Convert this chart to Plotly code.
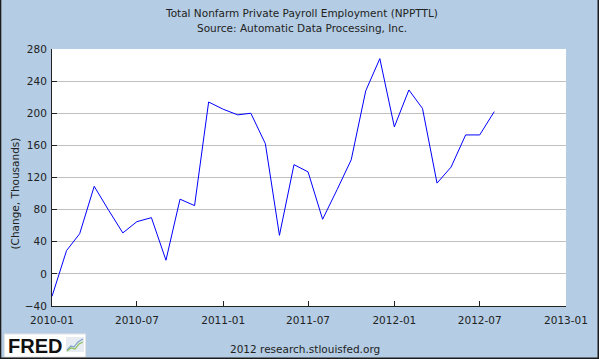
import plotly.graph_objects as go

# ---- data ----
months = [
    "2010-01-01", "2010-02-01", "2010-03-01", "2010-04-01", "2010-05-01", "2010-06-01",
    "2010-07-01", "2010-08-01", "2010-09-01", "2010-10-01", "2010-11-01", "2010-12-01",
    "2011-01-01", "2011-02-01", "2011-03-01", "2011-04-01", "2011-05-01", "2011-06-01",
    "2011-07-01", "2011-08-01", "2011-09-01", "2011-10-01", "2011-11-01", "2011-12-01",
    "2012-01-01", "2012-02-01", "2012-03-01", "2012-04-01", "2012-05-01", "2012-06-01",
    "2012-07-01", "2012-08-01",
]
npputtl_change = [
    -28, 29, 50, 109, 80, 51,
    65, 70, 17, 93, 85, 214,
    205, 198, 200, 162, 48, 136,
    127, 68, 105, 142, 228, 268,
    183, 229, 206, 113, 133, 173,
    173, 202,
]
y_tick_values = [-40, 0, 40, 80, 120, 160, 200, 240, 280]
x_tick_values = ["2010-01-01", "2010-07-01", "2011-01-01", "2011-07-01",
                 "2012-01-01", "2012-07-01", "2013-01-01"]
x_tick_labels = ["2010-01", "2010-07", "2011-01", "2011-07",
                 "2012-01", "2012-07", "2013-01"]

title_line1 = "Total Nonfarm Private Payroll Employment (NPPTTL)"
title_line2 = "Source: Automatic Data Processing, Inc."
y_label = "(Change, Thousands)"
footer = "2012 research.stlouisfed.org"

# ---- layout geometry (pixels) ----
W, H = 599, 359
L, R, T, B = 52, 566, 49, 306
pw, ph = R - L, B - T


def px(x):
    return (x - L) / pw


def py(y):
    return (B - y) / ph


FONT = "DejaVu Sans"
TXT = "#222222"
BG = "#B4CDE4"

fig = go.Figure()
fig.add_trace(go.Scatter(
    x=months, y=npputtl_change, mode="lines",
    line=dict(color="#0000FF", width=1),
    hoverinfo="x+y", showlegend=False,
))

fig.update_layout(
    width=W, height=H,
    margin=dict(l=L, r=W - R, t=T, b=H - B, pad=0),
    paper_bgcolor=BG, plot_bgcolor="white",
    font=dict(family=FONT, size=10.5, color=TXT),
    showlegend=False,
)

fig.update_xaxes(
    type="date", range=["2010-01-01", "2013-01-01"],
    tickvals=x_tick_values, ticktext=x_tick_labels,
    ticks="inside", ticklen=5, tickwidth=1, tickcolor="#222222",
    showline=True, linecolor="#222222", linewidth=1,
    showgrid=False, zeroline=False,
    tickfont=dict(family=FONT, size=10.5, color=TXT),
    ticklabelstandoff=4,
)
fig.update_yaxes(
    range=[-40, 280], tickvals=y_tick_values,
    ticks="inside", ticklen=5, tickwidth=1, tickcolor="#222222",
    showline=True, linecolor="#222222", linewidth=1,
    showgrid=True, gridcolor="#C0C0C0", gridwidth=1, zeroline=False,
    tickfont=dict(family=FONT, size=10.5, color=TXT),
    ticklabelstandoff=2,
)

annotations = [
    dict(text=title_line1, x=px(301.5), y=py(12.6)),
    dict(text=title_line2, x=px(301.5), y=py(27.5)),
    dict(text=y_label, x=px(14), y=py(193.5), textangle=-90),
    dict(text=footer, x=px(305), y=py(349)),
]
for a in annotations:
    fig.add_annotation(xref="paper", yref="paper", showarrow=False,
                       xanchor="center", yanchor="middle",
                       font=dict(family=FONT, size=10.5, color=TXT), **a)

# FRED logo
fig.add_shape(type="rect", xref="paper", yref="paper",
              x0=px(4.5), x1=px(85.5), y0=py(357), y1=py(334),
              fillcolor="white", line=dict(color="#E4E4E4", width=1), layer="above")
fig.add_annotation(xref="paper", yref="paper", showarrow=False,
                   text="<b>FRED</b>", x=px(34.5), y=py(345.5),
                   xanchor="center", yanchor="middle",
                   font=dict(family="Liberation Sans", size=20, color="#111111"))
fig.add_shape(type="rect", xref="paper", yref="paper",
              x0=px(66), x1=px(84), y0=py(352), y1=py(337),
              fillcolor="#E6ECF2", line=dict(width=0), layer="above")
fig.add_shape(type="path", xref="paper", yref="paper", layer="above",
              path=f"M {px(67)},{py(350)} L {px(71)},{py(346)} L {px(74)},{py(347)} "
                   f"L {px(78)},{py(342)} L {px(83)},{py(339)}",
              line=dict(color="#7FA3C7", width=1.2))
fig.add_shape(type="path", xref="paper", yref="paper", layer="above",
              path=f"M {px(67)},{py(351)} L {px(71)},{py(348)} L {px(75)},{py(349)} "
                   f"L {px(79)},{py(344)} L {px(83)},{py(342)}",
              line=dict(color="#8DBF5A", width=1.2))

# outer border (left, bottom, right)
fig.add_shape(type="path", xref="paper", yref="paper", layer="above",
              path=f"M {px(0.5)},{py(-5)} L {px(0.5)},{py(358.3)} "
                   f"L {px(598.3)},{py(358.3)} L {px(598.3)},{py(-5)}",
              line=dict(color="#1A1A1A", width=1.6))

fig.write_html(
    "out.html",
    config={"displayModeBar": False},
    post_script="document.body.style.margin='0';document.body.style.padding='0';"
                "document.body.style.overflow='hidden';",
)
